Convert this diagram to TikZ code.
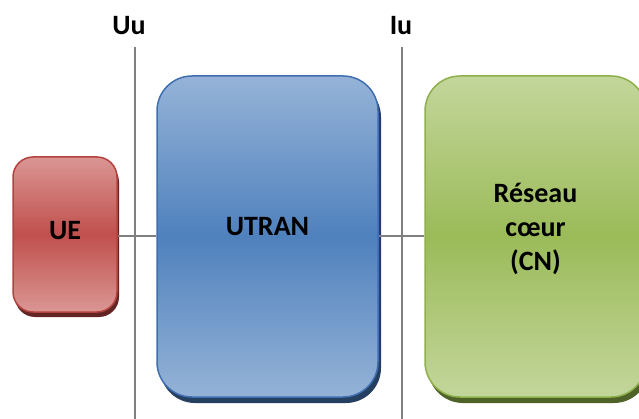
\documentclass[tikz,border=0pt]{standalone}
\usepackage{fontspec}
\setmainfont{Carlito}
\usetikzlibrary{shadows}

\definecolor{uehaut}{HTML}{DA9694}
\definecolor{uemilieu}{HTML}{C0504D}
\definecolor{uebord}{HTML}{B3423F}
\definecolor{ueombre}{HTML}{632523}
\definecolor{utranhaut}{HTML}{95B3D7}
\definecolor{utranmilieu}{HTML}{4F81BD}
\definecolor{utranbord}{HTML}{3F6FB0}
\definecolor{utranombre}{HTML}{243F60}
\definecolor{cnhaut}{HTML}{C3D69B}
\definecolor{cnmilieu}{HTML}{9BBB59}
\definecolor{cnbord}{HTML}{8DB04B}
\definecolor{cnombre}{HTML}{4F6228}
\definecolor{liengris}{HTML}{7F7F7F}

\tikzset{
    bloc/.style={line width=1.5pt, inner sep=0pt},
    titre/.style={font=\fontsize{28}{34}\selectfont\bfseries, align=center, inner sep=0pt},
    lien/.style={draw=liengris, line width=2pt}
}

\begin{document}
\begin{tikzpicture}[x=1pt,y=-1pt]
    \useasboundingbox (0,0) rectangle (639,419);
    % interfaces
    \node[titre] (uu) at (129,26) {Uu};
    \node[titre] (iu) at (401,26) {Iu};
    \coordinate (uuhaut) at (135,47);
    \coordinate (uubas) at (135,419);
    \coordinate (iuhaut) at (402,47);
    \coordinate (iubas) at (402,419);
    \draw[lien] (uuhaut) -- (uubas);
    \draw[lien] (iuhaut) -- (iubas);
    % blocs
    \node[bloc, draw=uebord, top color=uehaut, bottom color=uehaut, middle color=uemilieu,
          rounded corners=20pt, minimum width=104pt, minimum height=155pt,
          drop shadow={shadow xshift=2pt, shadow yshift=-5pt, fill=ueombre, opacity=1}]
          (ue) at (65,234.5) {};
    \node[bloc, draw=utranbord, top color=utranhaut, bottom color=utranhaut, middle color=utranmilieu,
          rounded corners=35pt, minimum width=221pt, minimum height=321pt,
          drop shadow={shadow xshift=3pt, shadow yshift=-6pt, fill=utranombre, opacity=1}]
          (utran) at (267.5,236.5) {};
    \node[bloc, draw=cnbord, top color=cnhaut, bottom color=cnhaut, middle color=cnmilieu,
          rounded corners=35pt, minimum width=221pt, minimum height=321pt,
          drop shadow={shadow xshift=3pt, shadow yshift=-6pt, fill=cnombre, opacity=1}]
          (cn) at (535.5,236.5) {};
    % textes
    \node[titre] (uetxt) at ([yshift=4pt]ue.center) {UE};
    \node[titre] (utrantxt) at ([yshift=10pt]utran.center) {UTRAN};
    \node[titre] (cntxt) at ([yshift=7.5pt]cn.center) {Réseau\\cœur\\(CN)};
    % liaisons
    \draw[lien] (ue.east |- utran.west) -- (utran.west);
    \draw[lien] (utran.east) -- (cn.west);
\end{tikzpicture}
\end{document}
